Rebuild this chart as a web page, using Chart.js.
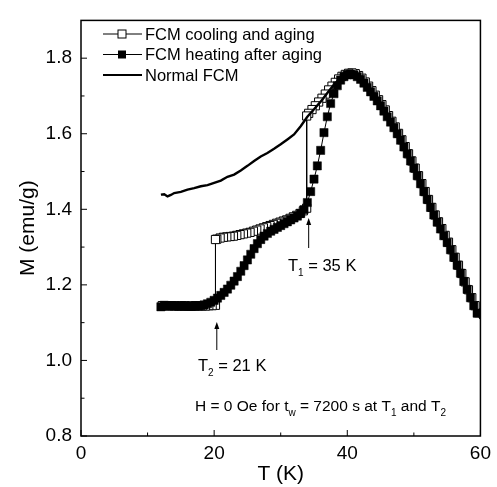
<!DOCTYPE html>
<html>
<head>
<meta charset="utf-8">
<script src="https://cdn.jsdelivr.net/npm/chart.js@4.4.1/dist/chart.umd.min.js"></script>
<style>
  body { margin: 0; background: #fff; }
  #wrap { width: 497px; height: 487px; }
</style>
</head>
<body>
<div id="wrap"><canvas id="mt" width="497" height="487"></canvas></div>
<script>
// heating after aging (filled squares)
var heatT = [12,12.5,13,13.5,14,14.5,15,15.5,16,16.5,17,17.5,18,18.5,19,19.5,20,20.5,21,21.5,
  22,22.5,23,23.5,24,24.5,25,25.5,26,26.5,27,27.5,28,28.5,29,29.5,30,30.5,31,31.5,
  32,32.5,33,33.5,34,34.5,35,35.5,36,36.5,37,37.5,38,38.5,39,39.5,40,40.5,41,41.5,
  42,42.5,43,43.5,44,44.5,45,45.5,46,46.5,47,47.5,48,48.5,49,49.5,50,50.5,51,51.5,
  52,52.5,53,53.5,54,54.5,55,55.5,56,56.5,57,57.5,58,58.5,59,59.5];
var heatM = [1.142,1.146,1.145,1.145,1.144,1.144,1.144,1.143,1.143,1.143,1.143,1.144,1.145,1.147,1.150,1.154,1.159,1.165,1.172,1.180,
  1.189,1.199,1.210,1.222,1.236,1.251,1.266,1.281,1.296,1.309,1.320,1.329,1.336,1.342,1.347,1.352,1.357,1.362,1.367,1.372,
  1.377,1.382,1.389,1.399,1.418,1.447,1.480,1.515,1.556,1.603,1.645,1.680,1.706,1.727,1.742,1.751,1.756,1.758,1.756,1.751,
  1.744,1.734,1.723,1.711,1.699,1.687,1.674,1.660,1.645,1.631,1.616,1.600,1.583,1.565,1.547,1.528,1.509,1.489,1.468,1.447,
  1.426,1.405,1.385,1.366,1.348,1.330,1.312,1.293,1.273,1.252,1.231,1.209,1.188,1.166,1.145,1.125];

// cooling and aging (open squares), in measuring order 60 K -> 12 K
var coolT = [59.7,59.2,58.7,58.2,57.7,57.2,56.7,56.2,55.7,55.2,54.7,54.2,53.7,53.2,52.7,52.2,51.7,51.2,50.7,50.2,
  49.7,49.2,48.7,48.2,47.7,47.2,46.7,46.2,45.7,45.2,44.7,44.2,43.7,43.2,42.7,42.2,41.7,41.2,40.7,40.2,
  39.7,39.2,38.7,38.2,37.7,37.2,36.7,36.2,35.7,35.2,34.7,34.2,33.9,
  33.9,33.4,32.9,32.4,31.9,31.4,30.9,30.4,29.9,29.4,28.9,28.4,27.9,27.4,26.9,26.4,25.9,25.4,24.9,24.4,
  23.9,23.4,22.9,22.4,21.9,21.4,20.9,20.4,20.2,
  20.2,19.7,19.2,18.7,18.2,17.7,17.2,16.7,16.2,15.7,15.2,14.7,14.2,13.7,13.2,12.7,12.2];
var coolM = [1.126,1.145,1.166,1.187,1.208,1.230,1.252,1.273,1.293,1.313,1.331,1.349,1.367,1.385,1.405,1.426,1.447,1.468,1.489,1.509,
  1.528,1.547,1.566,1.584,1.601,1.618,1.633,1.648,1.663,1.677,1.690,1.702,1.714,1.726,1.737,1.747,1.754,1.759,1.761,1.760,
  1.757,1.752,1.745,1.736,1.726,1.716,1.705,1.694,1.684,1.674,1.664,1.654,1.647,
  1.403,1.396,1.389,1.384,1.380,1.376,1.372,1.369,1.366,1.363,1.360,1.357,1.354,1.351,1.348,1.345,1.342,1.339,1.337,1.335,
  1.333,1.331,1.329,1.328,1.327,1.326,1.324,1.321,1.320,
  1.146,1.145,1.145,1.144,1.144,1.145,1.145,1.144,1.144,1.145,1.145,1.144,1.145,1.145,1.144,1.145,1.145];

// normal FCM (line only)
var normT = [12,12.5,13,13.5,14,15,16,17,18,19,20,21,22,23,24,25,26,27,28,29,30,31,32,33,34,35,36,37,38,39,40,40.5,
  41,42,43,44,46,48,50,52,54,56,58,60];
var normM = [1.439,1.440,1.434,1.438,1.443,1.446,1.452,1.456,1.461,1.464,1.470,1.476,1.486,1.492,1.503,1.515,1.528,1.540,
  1.549,1.560,1.572,1.585,1.598,1.620,1.645,1.665,1.685,1.708,1.730,1.748,1.756,1.758,
  1.757,1.745,1.723,1.699,1.645,1.583,1.509,1.426,1.348,1.273,1.188,1.11];

var xTicks = [0, 20, 40, 60];
var xMinor = [10, 30, 50];
var yTicks = [0.8, 1.0, 1.2, 1.4, 1.6, 1.8];
var yMinor = [0.9, 1.1, 1.3, 1.5, 1.7];

var FONT = '"Liberation Sans", Arial, Helvetica, sans-serif';

function pts(t, m) {
    var out = [];
    for (var i = 0; i < t.length; i++) out.push({x: t[i], y: m[i]});
    return out;
}

// text with subscripts: parts = [[text, sub?], ...]
function rich(ctx, parts, x, y, size) {
    var cx = x;
    parts.forEach(function (p) {
        if (p[1]) {
            ctx.font = Math.round(size * 0.62) + 'px ' + FONT;
            ctx.fillText(p[0], cx, y + size * 0.3);
        } else {
            ctx.font = size + 'px ' + FONT;
            ctx.fillText(p[0], cx, y);
        }
        cx += ctx.measureText(p[0]).width;
    });
}

function arrow(ctx, x, y0, y1) {
    ctx.beginPath();
    ctx.moveTo(x, y1);
    ctx.lineTo(x, y0 + 4);
    ctx.stroke();
    ctx.beginPath();
    ctx.moveTo(x, y0);
    ctx.lineTo(x - 2.5, y0 + 7);
    ctx.lineTo(x + 2.5, y0 + 7);
    ctx.closePath();
    ctx.fill();
}

var decor = {
    id: 'decor',
    afterDraw: function (chart) {
        var ctx = chart.ctx, a = chart.chartArea;
        var xs = chart.scales.x, ys = chart.scales.y;
        ctx.save();
        ctx.strokeStyle = '#000';
        ctx.fillStyle = '#000';
        ctx.lineWidth = 1.5;
        ctx.strokeRect(a.left, a.top, a.right - a.left, a.bottom - a.top);

        // inward ticks
        ctx.lineWidth = 1;
        ctx.beginPath();
        xTicks.forEach(function (v) { var px = xs.getPixelForValue(v); ctx.moveTo(px, a.bottom); ctx.lineTo(px, a.bottom - 6); });
        xMinor.forEach(function (v) { var px = xs.getPixelForValue(v); ctx.moveTo(px, a.bottom); ctx.lineTo(px, a.bottom - 3.5); });
        yTicks.forEach(function (v) { var py = ys.getPixelForValue(v); ctx.moveTo(a.left, py); ctx.lineTo(a.left + 6, py); });
        yMinor.forEach(function (v) { var py = ys.getPixelForValue(v); ctx.moveTo(a.left, py); ctx.lineTo(a.left + 3.5, py); });
        ctx.stroke();

        // legend
        var lx0 = 103, lx1 = 142, lc = 122, rows = [34, 54.5, 75];
        ctx.lineWidth = 1;
        ctx.textBaseline = 'middle';
        ctx.font = '16.5px ' + FONT;
        for (var i = 0; i < 3; i++) {
            ctx.beginPath();
            ctx.lineWidth = i == 2 ? 2 : 1;
            ctx.moveTo(lx0, rows[i]); ctx.lineTo(lx1, rows[i]);
            ctx.stroke();
        }
        ctx.lineWidth = 1;
        ctx.fillStyle = '#fff';
        ctx.fillRect(lc - 4, rows[0] - 4, 8, 8);
        ctx.strokeRect(lc - 4, rows[0] - 4, 8, 8);
        ctx.fillStyle = '#000';
        ctx.fillRect(lc - 4, rows[1] - 4, 8, 8);
        ctx.fillText('FCM cooling and aging', 145, rows[0] + 1);
        ctx.fillText('FCM heating after aging', 145, rows[1] + 1);
        ctx.fillText('Normal FCM', 145, rows[2] + 1);

        // annotations
        ctx.textBaseline = 'alphabetic';
        arrow(ctx, xs.getPixelForValue(34.2), 218, 248);
        rich(ctx, [['T', 0], ['1', 1], [' = 35 K', 0]], 288, 271, 16.5);
        arrow(ctx, xs.getPixelForValue(20.4), 322, 350);
        rich(ctx, [['T', 0], ['2', 1], [' = 21 K', 0]], 198, 371, 16.5);
        rich(ctx, [['H = 0 Oe for t', 0], ['w', 1], [' = 7200 s at T', 0], ['1', 1], [' and T', 0], ['2', 1]], 195, 411, 15.5);
        ctx.restore();
    }
};

new Chart(document.getElementById('mt'), {
    type: 'scatter',
    data: {
        datasets: [
            {
                label: 'FCM heating after aging',
                data: pts(heatT, heatM),
                showLine: true,
                borderColor: '#000',
                borderWidth: 1,
                pointStyle: 'rect',
                pointRadius: 5.8,
                pointBackgroundColor: '#000',
                pointBorderColor: '#000',
                pointBorderWidth: 0.5,
                order: 1
            },
            {
                label: 'Normal FCM',
                data: pts(normT, normM),
                showLine: true,
                borderColor: '#000',
                borderWidth: 2.4,
                pointRadius: 0,
                order: 2
            },
            {
                label: 'FCM cooling and aging',
                data: pts(coolT, coolM),
                showLine: true,
                borderColor: '#000',
                borderWidth: 1,
                pointStyle: 'rect',
                pointRadius: 5.8,
                pointBackgroundColor: '#fff',
                pointBorderColor: '#000',
                pointBorderWidth: 1,
                order: 3
            }
        ]
    },
    options: {
        responsive: false,
        animation: false,
        events: [],
        layout: { padding: { left: 0, right: 13, top: 12, bottom: 0 } },
        plugins: {
            legend: { display: false },
            tooltip: { enabled: false }
        },
        scales: {
            x: {
                type: 'linear',
                min: 0, max: 60,
                afterBuildTicks: function (s) { s.ticks = xTicks.map(function (v) { return {value: v}; }); },
                afterFit: function (s) { s.height = 51; },
                grid: { display: false, drawTicks: false },
                border: { display: false },
                ticks: { color: '#000', font: { family: FONT, size: 19 }, padding: 6, maxRotation: 0 },
                title: { display: true, text: 'T (K)', color: '#000', font: { family: FONT, size: 21 }, padding: { top: 0, bottom: 0 } }
            },
            y: {
                type: 'linear',
                min: 0.8, max: 1.9,
                afterBuildTicks: function (s) { s.ticks = yTicks.map(function (v) { return {value: v}; }); },
                afterFit: function (s) { s.width = 81; },
                grid: { display: false, drawTicks: false },
                border: { display: false },
                ticks: {
                    color: '#000', font: { family: FONT, size: 19 }, padding: 9,
                    callback: function (v) { return Number(v).toFixed(1); }
                },
                title: { display: true, text: 'M (emu/g)', color: '#000', font: { family: FONT, size: 21 }, padding: { top: 16, bottom: 4 } }
            }
        }
    },
    plugins: [decor]
});
</script>
</body>
</html>
